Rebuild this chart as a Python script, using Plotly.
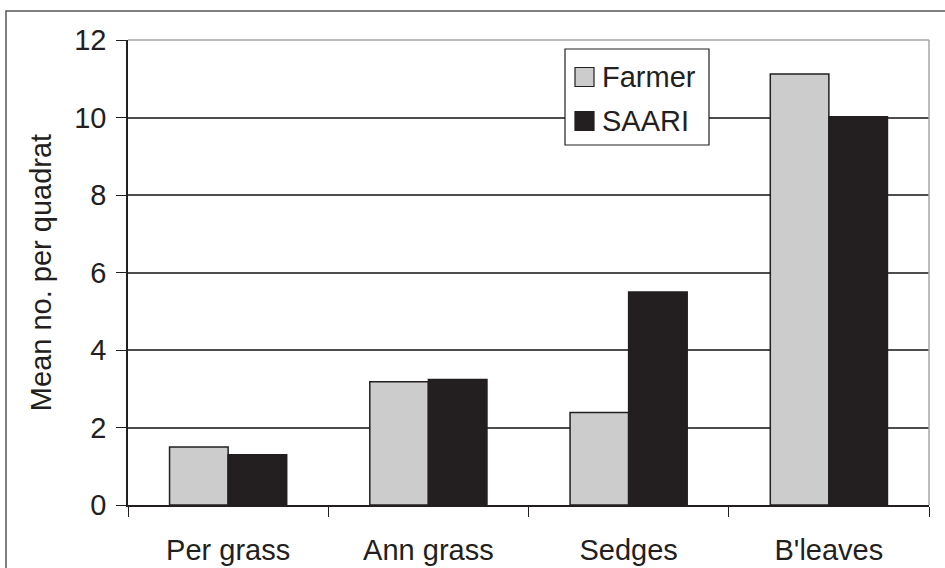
import plotly.graph_objects as go

# Weed counts by functional group under two management regimes
categories = ["Per grass", "Ann grass", "Sedges", "B'leaves"]
farmer = [1.5, 3.18, 2.39, 11.12]
saari = [1.3, 3.24, 5.5, 10.02]
series_names = ["Farmer", "SAARI"]
y_ticks = [0, 2, 4, 6, 8, 10, 12]

W, H = 945, 568
ML, MR, MT, MB = 128, 16, 40, 63
PW, PH = W - ML - MR, H - MT - MB

FARMER_COL = "#cccccc"
SAARI_COL = "#231f20"
INK = "#231f20"
FONT = dict(family="Liberation Sans, Arial, sans-serif", size=29, color=INK)


def px_x(x):
    return (x - ML) / PW


def px_y(y):
    return (H - MB - y) / PH


fig = go.Figure()
fig.add_trace(go.Bar(x=categories, y=farmer, name=series_names[0],
                     marker=dict(color=FARMER_COL, line=dict(color=INK, width=1.5)),
                     showlegend=False))
fig.add_trace(go.Bar(x=categories, y=saari, name=series_names[1],
                     marker=dict(color=SAARI_COL, line=dict(color=INK, width=1.5)),
                     showlegend=False))

shapes = [
    # outer frame
    dict(type="rect", xref="paper", yref="paper",
         x0=px_x(6), x1=px_x(1000), y0=px_y(640), y1=px_y(11),
         line=dict(color="#555555", width=1.5), layer="below"),
    # grey top and right edges of plot area
    dict(type="line", xref="paper", yref="paper", x0=0, x1=1, y0=1, y1=1,
         line=dict(color="#a6a6a6", width=1.5)),
    dict(type="line", xref="paper", yref="paper", x0=1, x1=1, y0=0, y1=1,
         line=dict(color="#a6a6a6", width=1.5)),
    # legend box
    dict(type="rect", xref="paper", yref="paper",
         x0=px_x(565), x1=px_x(709), y0=px_y(145), y1=px_y(49),
         fillcolor="white", line=dict(color=INK, width=1.2)),
]
annotations = []
legend_rows = [(series_names[0], FARMER_COL, 77), (series_names[1], SAARI_COL, 121)]
for name, col, cy in legend_rows:
    shapes.append(dict(type="rect", xref="paper", yref="paper",
                       x0=px_x(575), x1=px_x(594), y0=px_y(cy + 9.5), y1=px_y(cy - 9.5),
                       fillcolor=col, line=dict(color=INK, width=1.2)))
    annotations.append(dict(text=name, xref="paper", yref="paper",
                            x=px_x(600), y=px_y(cy), xanchor="left", yanchor="middle",
                            showarrow=False, font=FONT))

fig.update_layout(
    width=W, height=H,
    margin=dict(l=ML, r=MR, t=MT, b=MB, autoexpand=False),
    paper_bgcolor="white", plot_bgcolor="white",
    barmode="group", bargap=0.415, bargroupgap=0,
    font=FONT,
    shapes=shapes,
    annotations=annotations,
    showlegend=False,
)
fig.update_xaxes(
    type="category", tickson="boundaries", ticks="outside", ticklen=10,
    tickcolor=INK, tickwidth=1.2, showline=True, linecolor=INK, linewidth=1.5,
    showgrid=False, tickfont=FONT, ticklabelstandoff=18, automargin=False,
)
fig.update_yaxes(
    range=[0, 12], tickvals=y_ticks, ticks="outside", ticklen=10,
    tickcolor=INK, tickwidth=1.2, showline=True, linecolor=INK, linewidth=1.5,
    showgrid=True, gridcolor="#4d4d4d", gridwidth=1.5, zeroline=False,
    tickfont=FONT, ticklabelstandoff=4, automargin=False,
    title=dict(text="Mean no. per quadrat", font=FONT, standoff=14),
)

fig.write_html("out.html")
